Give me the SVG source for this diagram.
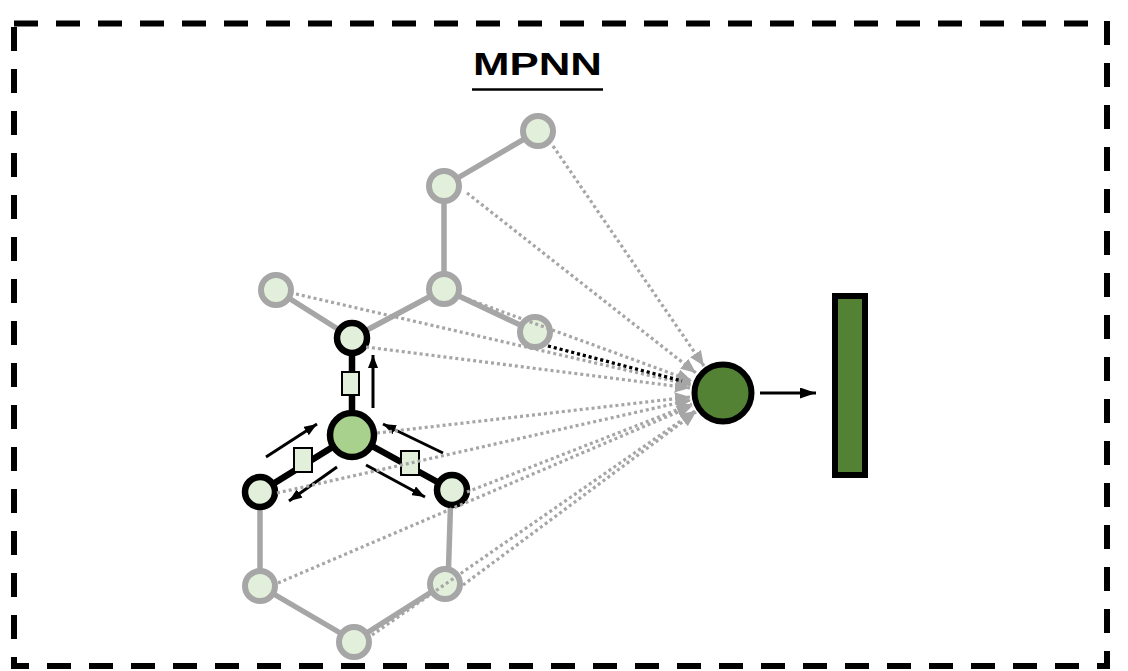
<svg xmlns="http://www.w3.org/2000/svg" width="1128" height="671" viewBox="0 0 1128 671">
  <style>
    .frame { stroke: #000; stroke-width: 6; stroke-dasharray: 24 18; fill: none; }
    .bond { stroke: #a6a6a6; stroke-width: 5.5; stroke-linecap: round; }
    .bond-active { stroke: #000; stroke-width: 6.5; }
    .atom { fill: #e2efda; stroke: #a6a6a6; stroke-width: 6; }
    .atom-active { fill: #e2efda; stroke: #000; stroke-width: 6.5; }
    .edge-feat { fill: #e2efda; stroke: #000; stroke-width: 2; }
    .msg { stroke: #000; stroke-width: 3; fill: none; marker-end: url(#headBlack); }
    .readout { stroke: #a6a6a6; stroke-width: 3.2; stroke-dasharray: 3 3; fill: none; marker-end: url(#headGray); }
    .readout-hi { stroke: #000; stroke-width: 3.2; stroke-dasharray: 3 3; fill: none; }
    .title { font-family: "Liberation Sans", Arial, sans-serif; font-weight: bold; font-size: 31px; fill: #000; }
  </style>
  <defs>
    <marker id="headBlack" markerUnits="userSpaceOnUse" markerWidth="13" markerHeight="10" refX="13" refY="5" orient="auto">
      <path d="M0,0 L13,5 L0,10 z" fill="#000"/>
    </marker>
    <marker id="headGray" markerUnits="userSpaceOnUse" markerWidth="15" markerHeight="13" refX="15" refY="6.5" orient="auto">
      <path d="M0,0 L15,6.5 L0,13 z" fill="#a6a6a6"/>
    </marker>
    <marker id="headOut" markerUnits="userSpaceOnUse" markerWidth="16" markerHeight="11" refX="16" refY="5.5" orient="auto">
      <path d="M0,0 L16,5.5 L0,11 z" fill="#000"/>
    </marker>
  </defs>

  <!-- dashed frame -->
  <g id="frame">
    <line class="frame" x1="14" y1="23.5" x2="1090" y2="23.5"/>
    <line class="frame" x1="1107" y1="21" x2="1107" y2="669"/>
    <line class="frame" x1="11" y1="666" x2="1110" y2="666" stroke-dashoffset="6"/>
    <line class="frame" x1="14" y1="27" x2="14" y2="669"/>
  </g>

  <!-- title -->
  <g id="title">
    <text class="title" x="473" y="75" textLength="129" lengthAdjust="spacingAndGlyphs">MPNN</text>
    <line x1="472" y1="89.5" x2="603" y2="89.5" stroke="#000" stroke-width="2.5"/>
  </g>

  <!-- molecular graph bonds -->
  <g id="bonds">
    <line class="bond" x1="538" y1="131" x2="444" y2="186"/>
    <line class="bond" x1="444" y1="186" x2="444" y2="289"/>
    <line class="bond" x1="444" y1="289" x2="535" y2="332"/>
    <line class="bond" x1="444" y1="289" x2="352" y2="338"/>
    <line class="bond" x1="276" y1="290" x2="352" y2="338"/>
    <line class="bond" x1="260" y1="492" x2="260" y2="586"/>
    <line class="bond" x1="451" y1="490" x2="448" y2="584"/>
    <line class="bond" x1="260" y1="586" x2="354" y2="641"/>
    <line class="bond" x1="354" y1="641" x2="444" y2="584"/>
    <line class="bond-active" x1="352" y1="338" x2="352" y2="435"/>
    <line class="bond-active" x1="352" y1="435" x2="260" y2="492"/>
    <line class="bond-active" x1="352" y1="435" x2="452" y2="490"/>
  </g>

  <!-- edge features -->
  <g id="edge-features">
    <rect class="edge-feat" x="342" y="372" width="17" height="23"/>
    <rect class="edge-feat" x="294" y="448" width="18" height="24"/>
    <rect class="edge-feat" x="401" y="451" width="18" height="24"/>
  </g>

  <!-- atoms -->
  <g id="atom-1"><circle class="atom" cx="538" cy="131" r="15"/></g>
  <g id="atom-2"><circle class="atom" cx="444" cy="186" r="15"/></g>
  <g id="atom-3"><circle class="atom" cx="444" cy="289" r="15"/></g>
  <g id="atom-4"><circle class="atom" cx="535" cy="332" r="15"/></g>
  <g id="atom-5"><circle class="atom" cx="276" cy="290" r="15"/></g>
  <g id="atom-6"><circle class="atom-active" cx="352" cy="338" r="15"/></g>
  <g id="atom-center"><circle cx="352" cy="435" r="22" fill="#a9d18e" stroke="#000" stroke-width="6.5"/></g>
  <g id="atom-7"><circle class="atom-active" cx="260" cy="492" r="15"/></g>
  <g id="atom-8"><circle class="atom-active" cx="452" cy="490" r="15"/></g>
  <g id="atom-9"><circle class="atom" cx="260" cy="586" r="15"/></g>
  <g id="atom-10"><circle class="atom" cx="445" cy="584" r="15"/></g>
  <g id="atom-11"><circle class="atom" cx="354" cy="642" r="15"/></g>

  <!-- message passing arrows -->
  <g id="messages">
    <line class="msg" x1="373" y1="408" x2="373" y2="355"/>
    <line class="msg" x1="266" y1="457" x2="317" y2="424"/>
    <line class="msg" x1="443" y1="453" x2="383" y2="424"/>
    <line class="msg" x1="337" y1="467" x2="289" y2="501"/>
    <line class="msg" x1="366" y1="465" x2="425" y2="497"/>
  </g>

  <!-- readout connectors -->
  <g id="readout">
    <line class="readout" x1="553" y1="146" x2="704" y2="366"/>
    <line class="readout" x1="467" y1="193" x2="696" y2="373"/>
    <line class="readout" x1="462" y1="297" x2="692" y2="381"/>
    <line class="readout" x1="548" y1="346" x2="691" y2="383"/>
    <line class="readout" x1="296" y1="294" x2="691" y2="385"/>
    <line class="readout" x1="366" y1="347" x2="690" y2="388"/>
    <line class="readout" x1="377" y1="433" x2="690" y2="397"/>
    <line class="readout" x1="277" y1="493" x2="691" y2="400"/>
    <line class="readout" x1="467" y1="492" x2="692" y2="404"/>
    <line class="readout" x1="278" y1="583" x2="692" y2="406"/>
    <line class="readout" x1="463" y1="585" x2="696" y2="412"/>
    <line class="readout" x1="372" y1="635" x2="695" y2="411"/>
    <line class="readout-hi" x1="548" y1="346" x2="682" y2="381"/>
  </g>

  <!-- graph-level output -->
  <g id="graph-node"><circle cx="723" cy="393" r="28.5" fill="#548235" stroke="#000" stroke-width="6"/></g>
  <g id="output-arrow">
    <line x1="760" y1="393" x2="816" y2="393" stroke="#000" stroke-width="3" marker-end="url(#headOut)"/>
  </g>
  <g id="output-vector"><rect x="835" y="296" width="30" height="179" fill="#548235" stroke="#000" stroke-width="6"/></g>
</svg>
